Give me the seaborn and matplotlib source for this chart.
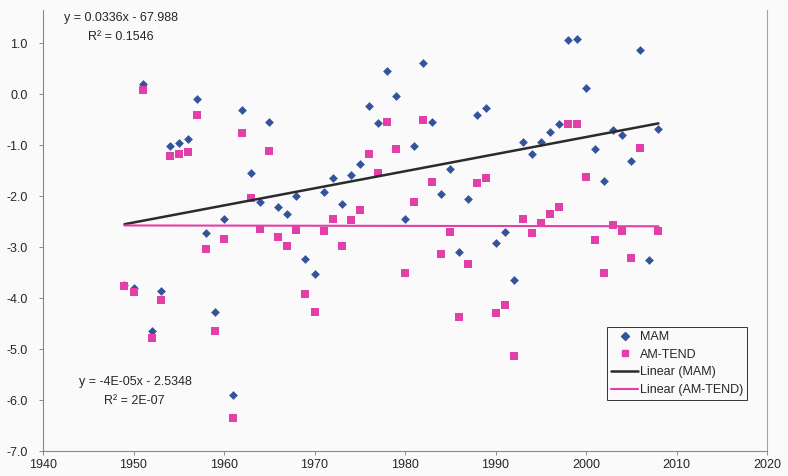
import numpy as np
import pandas as pd
import matplotlib
matplotlib.use("Agg")
import matplotlib.pyplot as plt
import matplotlib.ticker as mticker
from matplotlib.lines import Line2D
import seaborn as sns

years = list(range(1949, 2009))

mam = [-3.75, -3.80, 0.19, -4.64, -3.87, -1.02, -0.95, -0.88, -0.10, -2.72,
       -4.27, -2.45, -5.91, -0.31, -1.54, -2.11, -0.55, -2.22, -2.35, -1.99,
       -3.23, -3.53, -1.92, -1.64, -2.15, -1.58, -1.38, -0.24, -0.57, 0.45,
       -0.04, -2.45, -1.01, 0.61, -0.54, -1.95, -1.47, -3.09, -2.06, -0.41,
       -0.27, -2.92, -2.71, -3.65, -0.94, -1.18, -0.94, -0.74, -0.58, 1.07,
       1.09, 0.12, -1.08, -1.71, -0.71, -0.81, -1.31, 0.86, -3.25, -0.68]

# the 2007 AM-TEND point sits behind the legend box (estimated)
am_tend = [-3.77, -3.88, 0.09, -4.78, -4.04, -1.21, -1.18, -1.14, -0.41, -3.03,
           -4.64, -2.85, -6.35, -0.77, -2.04, -2.65, -1.11, -2.81, -2.98, -2.66,
           -3.93, -4.27, -2.68, -2.45, -2.98, -2.46, -2.28, -1.17, -1.54, -0.54,
           -1.07, -3.50, -2.12, -0.51, -1.72, -3.13, -2.71, -4.37, -3.33, -1.75,
           -1.65, -4.30, -4.14, -5.14, -2.45, -2.73, -2.53, -2.36, -2.22, -0.59,
           -0.59, -1.62, -2.86, -3.50, -2.56, -2.68, -3.21, -1.05, -5.45, -2.69]

eq_mam = ["y = 0.0336x - 67.988", "R\u00b2 = 0.1546"]
eq_am = ["y = -4E-05x - 2.5348", "R\u00b2 = 2E-07"]

x_ticks = list(range(1940, 2030, 10))
y_ticks = [-7, -6, -5, -4, -3, -2, -1, 0, 1]

blue = "#33549a"
pink = "#e23fa8"
dark = "#2b2b2b"

df = pd.DataFrame({"year": years, "MAM": mam, "AM-TEND": am_tend})

sns.set_style("ticks")
plt.rcParams["font.family"] = ["Liberation Sans", "DejaVu Sans"]
plt.rcParams["axes.unicode_minus"] = False

fig = plt.figure(figsize=(7.88, 4.76), dpi=100, facecolor="#fafafa")
ax = fig.add_axes([43 / 788, 25 / 476, 724 / 788, 441 / 476])
ax.set_facecolor("#fafafa")

sns.scatterplot(data=df, x="year", y="MAM", marker="D", s=20, color=blue,
                linewidth=0, ax=ax, zorder=2)
sns.scatterplot(data=df, x="year", y="AM-TEND", marker="s", s=26, color=pink,
                linewidth=0, ax=ax, zorder=2)
sns.regplot(data=df, x="year", y="MAM", scatter=False, ci=None, truncate=True,
            color=dark, line_kws={"linewidth": 1.8, "zorder": 3}, ax=ax)
sns.regplot(data=df, x="year", y="AM-TEND", scatter=False, ci=None,
            truncate=True, color=pink, line_kws={"linewidth": 1.5, "zorder": 3}, ax=ax)

ax.set_xlim(1940, 2020)
ax.set_ylim(-7, 1.65)
ax.set_xticks(x_ticks)
ax.set_yticks(y_ticks)
ax.yaxis.set_major_formatter(mticker.FormatStrFormatter("%.1f"))
ax.set_xlabel("")
ax.set_ylabel("")
ax.tick_params(axis="both", labelsize=9, length=3, width=0.6, color="#777777")
ax.tick_params(axis="y", pad=8)
ax.tick_params(axis="x", pad=3)

ax.spines["top"].set_visible(False)
for side in ["left", "bottom"]:
    ax.spines[side].set_color("#888888")
    ax.spines[side].set_linewidth(0.8)
ax.spines["right"].set_color("#a99cc4")
ax.spines["right"].set_linewidth(0.8)

# trendline equations, placed where Excel put them
fig.text(121 / 788, 1 - 18 / 476, eq_mam[0], ha="center", va="center", fontsize=9)
fig.text(121 / 788, 1 - 37 / 476, eq_mam[1], ha="center", va="center", fontsize=9)
fig.text(135 / 788, 1 - 382 / 476, eq_am[0], ha="center", va="center", fontsize=9)
fig.text(134 / 788, 1 - 401 / 476, eq_am[1], ha="center", va="center", fontsize=9)

handles = [
    Line2D([], [], marker="D", linestyle="", color=blue, markersize=4),
    Line2D([], [], marker="s", linestyle="", color=pink, markersize=5),
    Line2D([], [], color=dark, linewidth=1.8),
    Line2D([], [], color=pink, linewidth=1.5),
]
labels = ["MAM", "AM-TEND", "Linear (MAM)", "Linear (AM-TEND)"]
leg = ax.legend(handles, labels, loc="lower right", bbox_to_anchor=(0.972, 0.116),
                fontsize=9, frameon=True, fancybox=False, framealpha=1,
                edgecolor="#333333", handlelength=2.2, handletextpad=0.1,
                labelspacing=0.45, borderpad=0.3, borderaxespad=0)
leg.get_frame().set_linewidth(0.7)
leg.get_frame().set_facecolor("#fafafa")
leg.set_zorder(10)

fig.savefig("out.png", dpi=100, facecolor=fig.get_facecolor())
